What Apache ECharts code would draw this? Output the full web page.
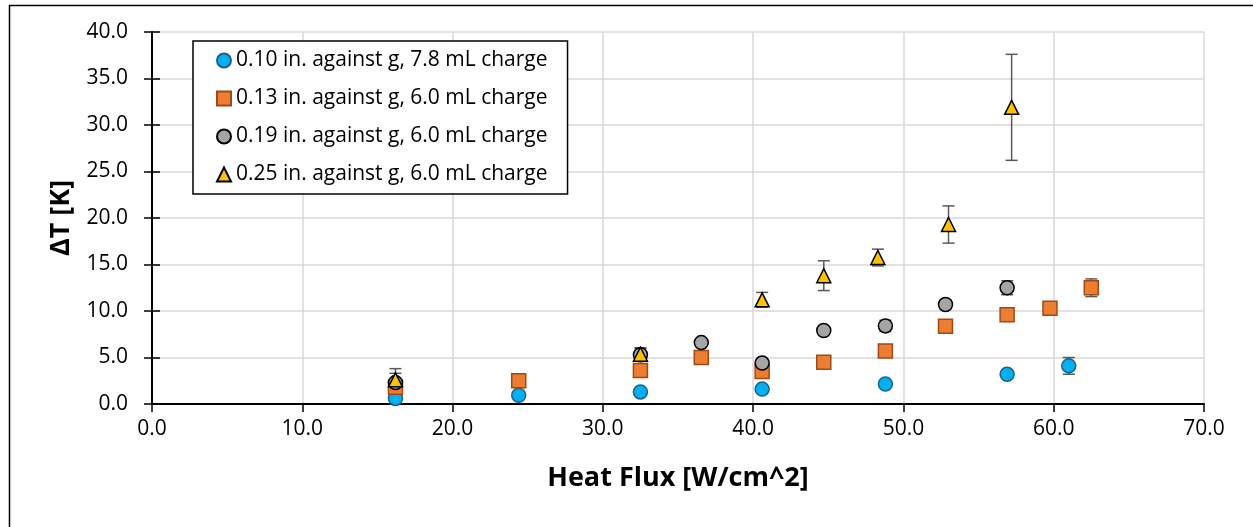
<!DOCTYPE html>
<html>
<head>
<meta charset="utf-8">
<script src="https://cdn.jsdelivr.net/npm/echarts@6/dist/echarts.min.js"></script>
<style>
  html, body { margin: 0; padding: 0; background: #fff; }
  #main { width: 1253px; height: 527px; }
</style>
</head>
<body>
<div id="main"></div>
<script>
// series names (legend)
var names = [
  "0.10 in. against g, 7.8 mL charge",
  "0.13 in. against g, 6.0 mL charge",
  "0.19 in. against g, 6.0 mL charge",
  "0.25 in. against g, 6.0 mL charge"
];

// 0.10 in. (blue circles)
var flux1 = [16.2, 24.4, 32.5, 40.6, 48.8, 56.9, 61.0];
var dT1 = [0.6, 0.95, 1.3, 1.6, 2.15, 3.2, 4.1];
var err1 = [0.2, 0.2, 0.2, 0.3, 0.3, 0.4, 0.9];

// 0.13 in. (orange squares)
var flux2 = [16.2, 24.4, 32.5, 36.55, 40.6, 44.7, 48.8, 52.8, 56.9, 59.75, 62.5];
var dT2 = [1.8, 2.5, 3.6, 5.0, 3.5, 4.5, 5.7, 8.35, 9.6, 10.3, 12.5];
var err2 = [0.3, 0.3, 0.4, 0.4, 0.4, 0.4, 0.5, 0.5, 0.6, 0.5, 0.95];

// 0.19 in. (gray circles)
var flux3 = [16.2, 32.5, 36.55, 40.6, 44.7, 48.8, 52.8, 56.9];
var dT3 = [2.3, 5.3, 6.6, 4.4, 7.9, 8.4, 10.7, 12.5];
var err3 = [1.0, 0.7, 0.4, 0.4, 0.4, 0.6, 0.5, 0.75];

// 0.25 in. (yellow triangles)
var flux4 = [16.2, 32.5, 40.6, 44.7, 48.3, 53.0, 57.2];
var dT4 = [2.6, 5.35, 11.2, 13.8, 15.75, 19.3, 31.9];
var err4 = [1.2, 0.7, 0.8, 1.6, 0.9, 2.0, 5.7];

var font = "'Open Sans', 'Noto Sans', sans-serif";

function pts(xs, ys) {
  return xs.map(function (x, i) { return [x, ys[i]]; });
}
function errPts(xs, ys, es) {
  return xs.map(function (x, i) { return [x, ys[i] - es[i], ys[i] + es[i]]; });
}

function errorSeries(data) {
  return {
    type: "custom",
    silent: true,
    z: 1,
    data: data,
    renderItem: function (params, api) {
      var x = api.value(0);
      var lo = api.coord([x, api.value(1)]);
      var hi = api.coord([x, api.value(2)]);
      var w = 6;
      var st = { stroke: "#595959", lineWidth: 1.5 };
      return {
        type: "group",
        children: [
          { type: "line", shape: { x1: lo[0], y1: lo[1], x2: hi[0], y2: hi[1] }, style: st },
          { type: "line", shape: { x1: lo[0] - w, y1: lo[1], x2: lo[0] + w, y2: lo[1] }, style: st },
          { type: "line", shape: { x1: hi[0] - w, y1: hi[1], x2: hi[0] + w, y2: hi[1] }, style: st }
        ]
      };
    }
  };
}

function scatter(name, data, symbol, fill, border) {
  return {
    name: name,
    type: "scatter",
    z: 3,
    data: data,
    symbol: symbol,
    symbolSize: 14,
    itemStyle: { color: fill, borderColor: border, borderWidth: 1.5, opacity: 1 }
  };
}

var myChart = echarts.init(document.getElementById("main"));

var option = {
  backgroundColor: "#fff",
  animation: false,
  textStyle: { fontFamily: font },
  graphic: [
    {
      type: "rect",
      left: 7, top: 3,
      shape: { width: 1300, height: 600 },
      style: { fill: "none", stroke: "#000", lineWidth: 1.5 },
      silent: true
    }
  ],
  grid: { left: 152, right: 49, top: 32, bottom: 123 },
  legend: {
    data: names,
    orient: "vertical",
    left: 193,
    top: 41,
    backgroundColor: "#fff",
    borderColor: "#000",
    borderWidth: 1.5,
    padding: [9, 20, 9, 23],
    itemGap: 17,
    itemWidth: 14,
    itemHeight: 14,
    textStyle: { fontSize: 21, color: "#000", fontFamily: font }
  },
  xAxis: {
    type: "value",
    min: 0,
    max: 70,
    interval: 10,
    name: "Heat Flux [W/cm^2]",
    nameLocation: "middle",
    nameGap: 61,
    nameTextStyle: { fontSize: 27, fontWeight: "bold", color: "#000" },
    axisLine: { show: true, onZero: false, lineStyle: { color: "#000", width: 2 } },
    axisTick: { show: true, inside: false, length: 8, lineStyle: { color: "#000", width: 1.5 } },
    axisLabel: { fontSize: 21, color: "#000", margin: 15, formatter: function (v) { return v.toFixed(1); } },
    splitLine: { show: true, lineStyle: { color: "#d9d9d9", width: 1.5 } }
  },
  yAxis: [
    {
      type: "value",
      min: 0,
      max: 40,
      interval: 5,
      name: "ΔT [K]",
      nameLocation: "middle",
      nameGap: 77,
      nameTextStyle: { fontSize: 27, fontWeight: "bold", color: "#000" },
      axisLine: { show: true, onZero: false, lineStyle: { color: "#000", width: 2 } },
      axisTick: { show: true, inside: false, length: 8, lineStyle: { color: "#000", width: 1.5 } },
      axisLabel: { fontSize: 21, color: "#000", margin: 24, formatter: function (v) { return v.toFixed(1); } },
      splitLine: { show: true, lineStyle: { color: "#d9d9d9", width: 1.5 } }
    },
    {
      type: "value",
      min: 0,
      max: 40,
      interval: 5,
      position: "left",
      axisLine: { show: false },
      axisTick: { show: true, inside: true, length: 8, lineStyle: { color: "#000", width: 1.5 } },
      axisLabel: { show: false },
      splitLine: { show: false }
    }
  ],
  series: [
    errorSeries(errPts(flux1, dT1, err1)),
    errorSeries(errPts(flux2, dT2, err2)),
    errorSeries(errPts(flux3, dT3, err3)),
    errorSeries(errPts(flux4, dT4, err4)),
    scatter(names[0], pts(flux1, dT1), "circle", "#00b0f0", "#1f5f8b"),
    scatter(names[1], pts(flux2, dT2), "rect", "#ed7d31", "#9c4a18"),
    scatter(names[2], pts(flux3, dT3), "circle", "#a5a5a5", "#000"),
    scatter(names[3], pts(flux4, dT4), "triangle", "#ffc000", "#000")
  ]
};

myChart.setOption(option);
</script>
</body>
</html>
